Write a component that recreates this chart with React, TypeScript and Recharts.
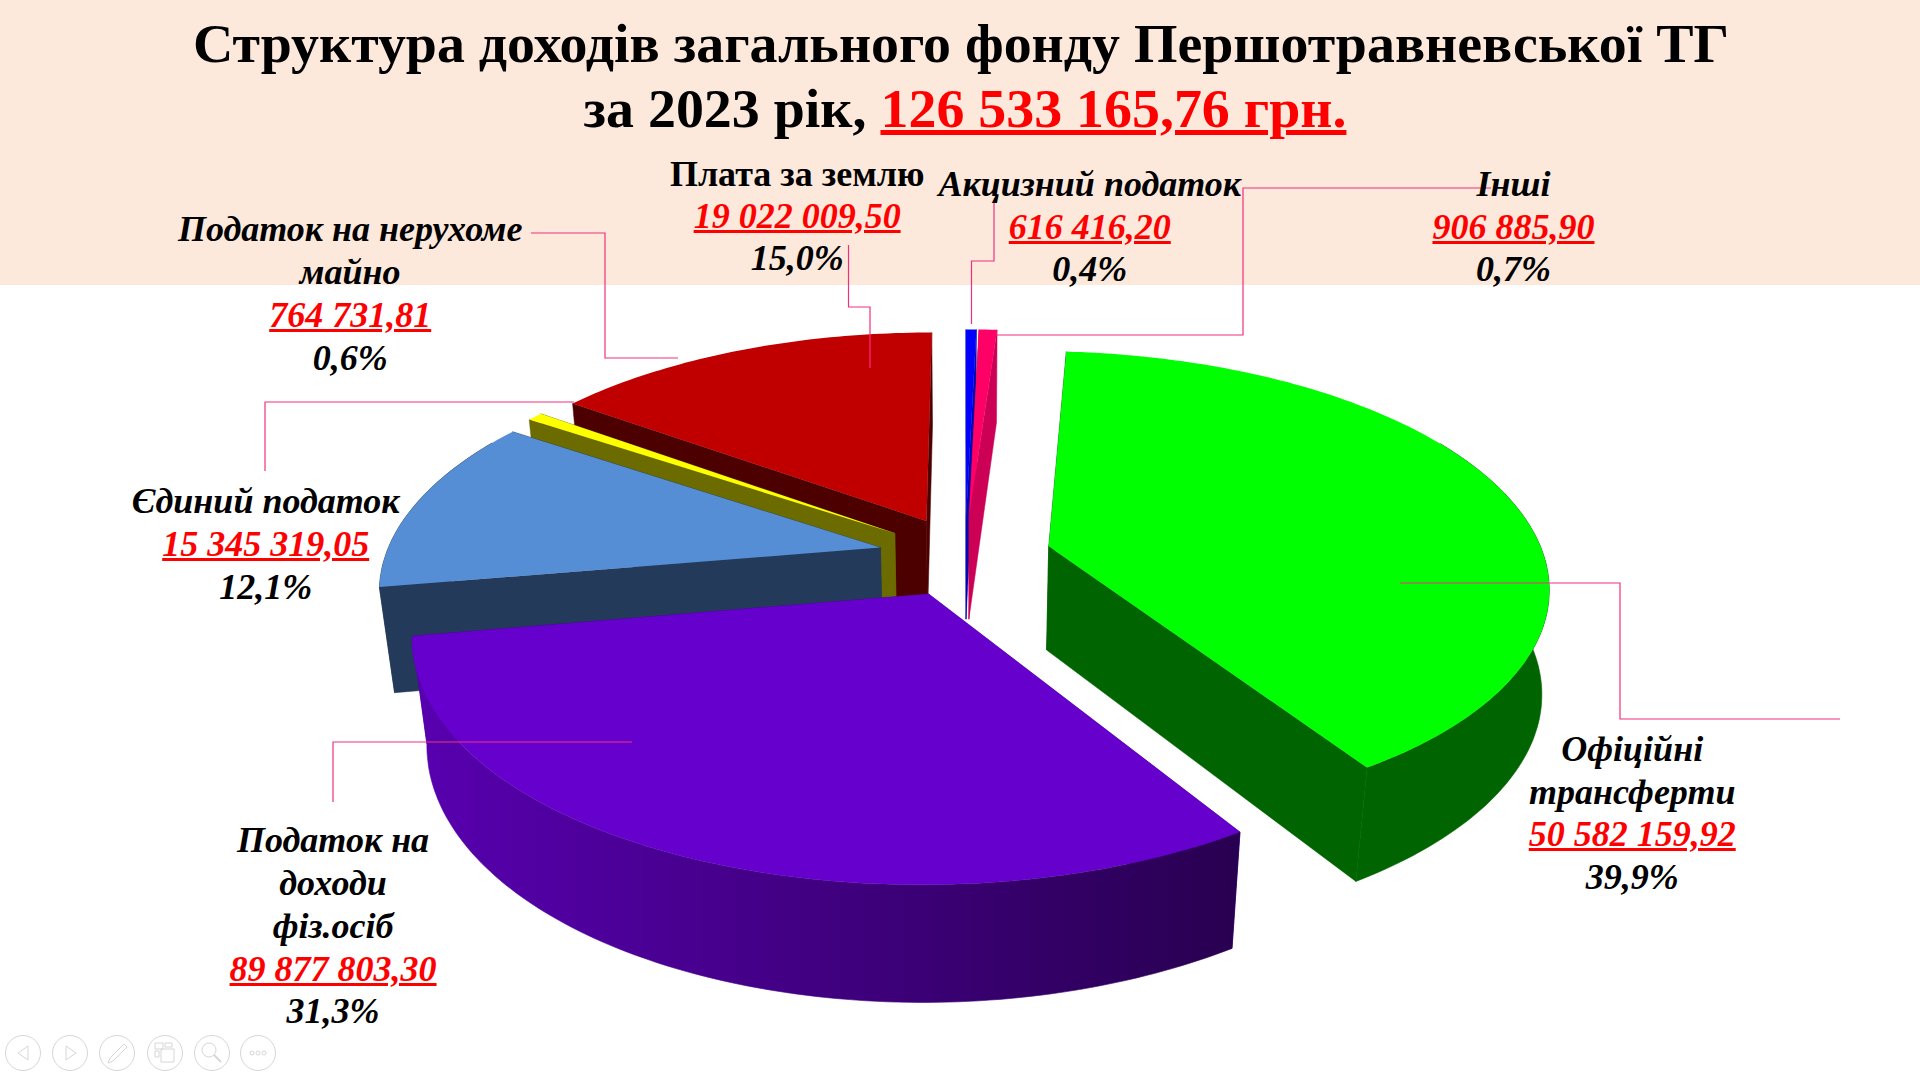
import { PieChart, Pie } from "recharts";

// category names, amounts and shares as printed on the slide
const categories = ["Акцизний податок", "Інші", "Офіційні трансферти", "Податок на доходи фіз.осіб", "Єдиний податок", "Податок на нерухоме майно", "Плата за землю"];
const shares = [0.4, 0.7, 39.9, 31.3, 12.1, 0.6, 15.0];
const topColors = ["#0000FF", "#FF0066", "#00FF00", "#6600CC", "#558ED5", "#FFFF00", "#C00000"];
const wallColors = ["#0000B0", "#CC0055", "#006400", "url(#purpleWall)", "#243A5B", "#6B6B00", "#4D0000"];
// slices overlap, so they are painted back to front
const paintOrder = [0, 1, 6, 5, 4, 2, 3];

const pieData = categories.map((name, i) => ({ name, value: shares[i] }));

const labels = [
  { x: 651, y: [142, 176, 211], lines: ["Плата за землю"], amount: "19 022 009,50", pct: "15,0%", upright: true },
  { x: 890, y: [150, 185, 220], lines: ["Акцизний податок"], amount: "616 416,20", pct: "0,4%" },
  { x: 1236, y: [150, 185, 220], lines: ["Інші"], amount: "906 885,90", pct: "0,7%" },
  { x: 286, y: [187, 222, 257, 292], lines: ["Податок на нерухоме", "майно"], amount: "764 731,81", pct: "0,6%" },
  { x: 217, y: [409, 444, 479], lines: ["Єдиний податок"], amount: "15 345 319,05", pct: "12,1%" },
  { x: 272, y: [686, 721, 756, 791, 826], lines: ["Податок на", "доходи", "фіз.осіб"], amount: "89 877 803,30", pct: "31,3%" },
  { x: 1333, y: [612, 647, 681, 716], lines: ["Офіційні", "трансферти"], amount: "50 582 159,92", pct: "39,9%" },
];

const leaders = [
  "531,233 605,233 605,358 678,358",
  "848.5,245 848.5,307 870,307 870,368",
  "265,471 265,402 574,402",
  "994,200 994,261 971.5,261 971.5,324",
  "1491,188 1243,188 1243,335 997,335",
  "1400,583 1620,583 1620,719 1840,719",
  "632,742 333,742 333,802",
];

const navX = [23, 70, 117, 165, 212, 258];

const SERIF = "'Liberation Serif', 'Times New Roman', serif";
const SCALE = 1568 / 1920; // label positions were read at this size

// perspective of the tilted pie
const TILT = 0.464;
const PERSP = 0.163;
const DEPTH = 107;
const DEPTH_PERSP = 0.026;
const EXPLODE = 87;

const Slice3D = (props: any, only: number) => {
  const idx = categories.indexOf(props.payload?.name ?? props.name);
  if (idx !== only) return <g />;
  const { cx, cy, outerRadius: R, startAngle, endAngle } = props;
  const t0 = 90 - startAngle;
  const t1 = 90 - endAngle;
  const rad = (d: number) => (d * Math.PI) / 180;
  const mid = rad((t0 + t1) / 2);
  const ox = Math.sin(mid) * EXPLODE;
  const oz = Math.cos(mid) * EXPLODE;

  const project = (x: number, z: number, d: number, q = DEPTH_PERSP) => {
    const den = 1 + (PERSP * z) / R + q * d;
    return [cx + x / den, cy + (-TILT * z + DEPTH * d) / den];
  };
  // the lower rim bulges a bit more on the right side in the original
  const rim = (t: number, d: number) => {
    const s = Math.max(0, Math.sin(rad(t)));
    return project(ox + R * Math.sin(rad(t)), oz + R * Math.cos(rad(t)), d, DEPTH_PERSP * (1 - 0.55 * s ** 4));
  };
  const apex = (d: number) => project(ox, oz, d);
  const toPts = (pts: number[][]) => pts.map((p) => `${p[0].toFixed(1)},${p[1].toFixed(1)}`).join(" ");

  const arc: number[] = [];
  const steps = Math.max(2, Math.ceil(t1 - t0));
  for (let i = 0; i <= steps; i++) arc.push(t0 + ((t1 - t0) * i) / steps);

  // the wall has to start behind the widest point or it leaves a notch
  const front = arc.filter((t) => Math.cos(rad(t)) < 0.5);
  const wall = wallColors[idx];
  const faceColor = wall.startsWith("url") ? "#4A0095" : wall;

  return (
    <g>
      <defs>
        <linearGradient id="purpleWall" x1="0" y1="0" x2="1" y2="0">
          <stop offset="0%" stopColor="#5800B0" />
          <stop offset="100%" stopColor="#280050" />
        </linearGradient>
      </defs>
      <polygon points={toPts([apex(0), rim(t0, 0), rim(t0, 1), apex(1)])} fill={faceColor} stroke={faceColor} strokeWidth={0.5} />
      <polygon points={toPts([apex(0), rim(t1, 0), rim(t1, 1), apex(1)])} fill={faceColor} stroke={faceColor} strokeWidth={0.5} />
      {front.length > 1 && (
        <polygon
          points={toPts([...front.map((t) => rim(t, 0)), ...[...front].reverse().map((t) => rim(t, 1))])}
          fill={wall}
          stroke={wall}
          strokeWidth={0.6}
        />
      )}
      <polygon points={toPts([apex(0), ...arc.map((t) => rim(t, 0))])} fill={topColors[idx]} />
    </g>
  );
};

const LabelBlock = ({ label }: { label: (typeof labels)[number] }) => {
  const rows = [...label.lines, label.amount, label.pct];
  return (
    <>
      {rows.map((text, i) => {
        const isAmount = i === label.lines.length;
        const upright = label.upright && i < label.lines.length;
        return (
          <div
            key={i}
            style={{
              position: "absolute",
              left: label.x / SCALE,
              top: label.y[i] / SCALE - 21,
              height: 42,
              lineHeight: "42px",
              transform: "translateX(-50%)",
              whiteSpace: "nowrap",
              fontFamily: SERIF,
              fontSize: 36,
              fontWeight: 700,
              fontStyle: upright ? "normal" : "italic",
              color: isAmount ? "#FF0000" : "#000",
              textDecoration: isAmount ? "underline" : "none",
              textDecorationThickness: isAmount ? 3 : undefined,
            }}
          >
            {text}
          </div>
        );
      })}
    </>
  );
};

const titleStyle = {
  position: "absolute",
  left: 1,
  width: 1920,
  textAlign: "center",
  whiteSpace: "nowrap",
  fontFamily: SERIF,
  fontSize: 55.9,
  fontWeight: 700,
  height: 66,
  lineHeight: "66px",
  color: "#000",
} as const;

export default function App() {
  return (
    <div style={{ position: "absolute", left: 0, top: 0, width: 1920, height: 1074, overflow: "hidden", background: "#fff" }}>
      <div style={{ position: "absolute", left: 0, top: 0, width: 1920, height: 285, background: "#FDE9DB" }} />

      <div style={{ position: "absolute", left: 0, top: 0 }}>
        <PieChart width={1920} height={1074} margin={{ top: 0, right: 0, bottom: 0, left: 0 }}>
          {paintOrder.map((only) => (
            <Pie
              key={only}
              data={pieData}
              dataKey="value"
              nameKey="name"
              cx={965}
              cy={556}
              outerRadius={495}
              startAngle={90}
              endAngle={-270}
              stroke="none"
              isAnimationActive={false}
              shape={(p: any) => Slice3D(p, only)}
            />
          ))}
        </PieChart>
      </div>

      <svg width={1920} height={1074} style={{ position: "absolute", left: 0, top: 0 }}>
        {leaders.map((pts) => (
          <polyline key={pts} points={pts} fill="none" stroke="#F0307E" strokeWidth={1.2} />
        ))}
        {navX.map((x) => (
          <circle key={x} cx={x} cy={1053} r={17.5} fill="none" stroke="#D6D6D6" strokeWidth={1} />
        ))}
        <path d="M28,1046 L18,1053 L28,1060 Z" fill="none" stroke="#D6D6D6" />
        <path d="M66,1046 L76,1053 L66,1060 Z" fill="none" stroke="#D6D6D6" />
        <path d="M108,1063 L110,1058 L124,1044 L127,1047 L113,1061 Z" fill="none" stroke="#D6D6D6" />
        <path d="M155,1043 h8 v6 h-8 z M165,1043 h7 v4 h-7 z M155,1051 h4 v6 h-4 z M161,1049 h13 v13 h-13 z" fill="none" stroke="#D6D6D6" />
        <circle cx={209} cy={1050} r={7} fill="none" stroke="#D6D6D6" />
        <path d="M214,1055 L221,1062" stroke="#D6D6D6" strokeWidth={2} />
        {[-6, 0, 6].map((d) => (
          <circle key={d} cx={258 + d} cy={1053} r={2} fill="none" stroke="#D6D6D6" />
        ))}
      </svg>

      <div style={{ ...titleStyle, top: 10 }}>Структура доходів загального фонду Першотравневської ТГ</div>
      <div style={{ ...titleStyle, top: 75, left: 5 }}>
        за 2023 рік,{" "}
        <span style={{ color: "#FF0000", textDecoration: "underline", textDecorationThickness: 5 }}>126 533 165,76 грн.</span>
      </div>

      {labels.map((label) => (
        <LabelBlock key={label.amount} label={label} />
      ))}
    </div>
  );
}
